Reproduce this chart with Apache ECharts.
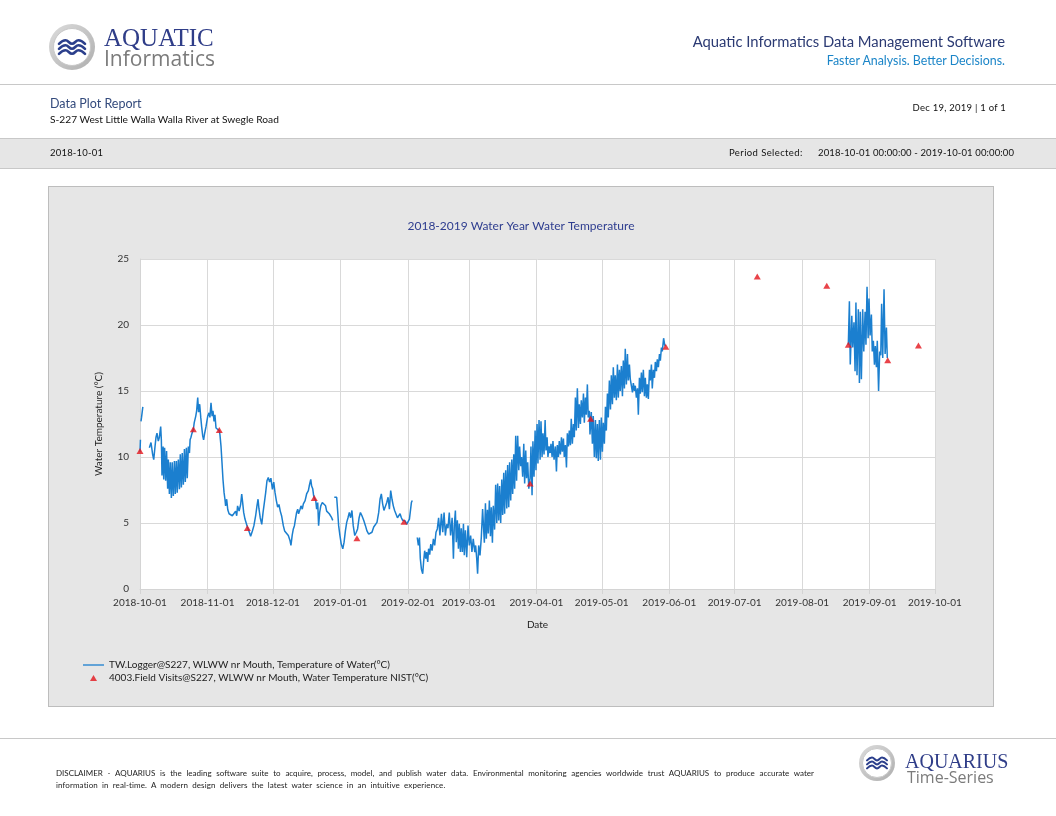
<!DOCTYPE html>
<html>
<head>
<meta charset="utf-8">
<title>Data Plot Report</title>
<script src="https://cdn.jsdelivr.net/npm/echarts@6/dist/echarts.min.js"></script>
<style>
  html, body { margin: 0; padding: 0; background: #fff; }
  #page { position: relative; width: 1056px; height: 816px; overflow: hidden; font-family: Lato, "Open Sans", sans-serif; }
  #chart { position: absolute; left: 0; top: 0; width: 1056px; height: 816px; }
  .t { position: absolute; white-space: nowrap; line-height: 1; }
  .box { position: absolute; box-sizing: border-box; }
</style>
</head>
<body>
<div id="page">
  <div class="box" style="left:0;top:84px;width:1056px;height:1px;background:#c8c8c8;"></div>
  <div class="box" style="left:0;top:138px;width:1056px;height:31px;background:#e6e6e6;border-top:1px solid #c8c8c8;border-bottom:1px solid #c8c8c8;"></div>
  <div class="box" style="left:48px;top:186px;width:946px;height:521px;background:#e6e6e6;border:1px solid #bdbdbd;"></div>
  <div class="box" style="left:0;top:738px;width:1056px;height:1px;background:#c8c8c8;"></div>

  <div id="chart"></div>

  <div class="t" style="left:104px;top:25px;font-size:25px;font-family:'Liberation Serif';color:#2f3d88;">AQUATIC</div>
  <div class="t" style="left:104px;top:48px;font-size:21px;font-family:'Open Sans';color:#7b7b7b;">Informatics</div>
  <div class="t" style="right:51px;top:34px;font-size:14.8px;color:#2b3a73;">Aquatic Informatics Data Management Software</div>
  <div class="t" style="right:51px;top:55px;font-size:12.4px;color:#1b85c8;">Faster Analysis. Better Decisions.</div>

  <div class="t" style="left:50px;top:98px;font-size:12.5px;color:#334a7c;">Data Plot Report</div>
  <div class="t" style="left:50px;top:114px;font-size:10.2px;color:#111;">S-227 West Little Walla Walla River at Swegle Road</div>
  <div class="t" style="right:50px;top:103px;font-size:9.5px;letter-spacing:0.24px;color:#111;">Dec 19, 2019 | 1 of 1</div>

  <div class="t" style="left:50px;top:148px;font-size:9.5px;letter-spacing:0.2px;color:#111;">2018-10-01</div>
  <div class="t" style="left:729px;top:148px;font-size:9.5px;letter-spacing:0.4px;color:#111;">Period Selected:</div>
  <div class="t" style="left:818px;top:148px;font-size:9.5px;letter-spacing:0.12px;color:#111;">2018-10-01 00:00:00 - 2019-10-01 00:00:00</div>

  <div class="t" style="left:56px;top:769px;width:758px;font-size:8px;color:#222;white-space:normal;text-align:justify;text-align-last:justify;">DISCLAIMER - AQUARIUS is the leading software suite to acquire, process, model, and publish water data. Environmental monitoring agencies worldwide trust AQUARIUS to produce accurate water</div>
  <div class="t" style="left:56px;top:781px;font-size:8px;color:#222;letter-spacing:0.1px;word-spacing:2px;">information in real-time. A modern design delivers the latest water science in an intuitive experience.</div>

  <div class="t" style="left:905px;top:751px;font-size:20px;font-family:'Liberation Serif';color:#2f3d88;">AQUARIUS</div>
  <div class="t" style="left:907px;top:769px;font-size:16px;font-family:'Open Sans';color:#7b7b7b;">Time-Series</div>
</div>

<script>
// days since 2018-10-01, water temperature (°C); null = gap in the record
var loggerOct = [
  [0.0,10.4],[0.2,11.3],[0.3,null],[0.45,12.7],[0.7,13.0],[1.0,13.4],[1.3,13.8],[2.5,null],
  [4.3,10.7],[5.05,11.1],[5.8,10.2],[6.3,9.8],[6.9,10.8],[7.35,11.5],[7.8,11.8],[8.4,11.2],[8.9,11.5],
  [9.5,12.3],[9.8,11.3],[10.1,8.6],[10.6,10.8],[10.9,8.3],[11.3,10.7],[11.8,8.2],[12.2,10.45],[12.7,7.6],
  [13.0,9.8],[13.5,7.2],[13.9,9.6],[14.4,6.9],[14.8,9.6],[15.3,7.05],[15.8,9.7],[16.2,7.2],[16.7,9.7],
  [17.1,7.3],[17.6,9.8],[18.1,7.55],[18.5,10.2],[19.0,7.7],[19.4,10.3],[19.9,7.9],[20.4,10.6],[20.8,8.1],
  [21.3,10.7],[21.7,8.4],[22.2,10.8],[22.7,10.3],[23.0,11.3],[23.4,11.5],[23.7,11.7],[24.5,12.1],[24.9,12.6],
  [25.6,13.1],[26.0,13.5],[26.5,14.5],[26.9,13.4],[27.4,14.0],[27.9,13.0],[28.3,12.3],[28.8,11.6],[29.2,11.3],
  [29.7,11.8],[30.3,12.3]
];
var loggerNov = [
  [31.1,13.1],[31.7,13.35],[32.1,13.0],[32.6,14.1],[33.1,13.1],[33.5,13.5],[34.0,12.7],[34.4,13.2],[34.9,12.2],
  [35.4,12.3],[36.4,12.0],[36.7,11.7],[37.2,10.8],[37.6,9.7],[38.1,8.3],[38.6,7.3],[39.0,6.8],[39.3,6.3],
  [39.8,6.8],[40.3,6.0],[40.9,5.7],[41.6,5.55],[42.4,5.55],[43.3,5.4],[43.9,5.9],[44.4,5.55],[44.8,6.3],
  [45.5,5.9],[46.2,6.4],[46.7,7.2],[47.1,6.6],[47.6,5.8],[48.2,5.3],[49.3,4.7],[50.2,4.3],[50.8,4.0],
  [51.6,4.4],[52.3,4.8],[53.1,5.55],[53.7,6.3],[54.2,6.8],[54.6,6.1],[55.2,5.4],[55.9,4.9],[56.5,5.8],
  [57.1,6.55],[57.7,7.3],[58.3,8.2],[58.9,8.45],[59.5,8.1],[60.1,8.4],[60.8,7.55]
];
var loggerDec = [
  [61.4,8.1],[62.0,7.3],[62.6,6.7],[63.2,6.2],[63.8,6.4],[64.4,5.9],[65.0,5.55],[65.8,4.8],[66.4,4.4],
  [67.3,4.4],[68.1,4.05],[68.9,3.65],[69.3,3.3],[69.9,4.1],[70.4,4.55],[70.9,4.8],[71.5,5.4],[71.9,5.8],
  [72.4,6.05],[72.8,5.7],[73.5,6.05],[73.9,6.3],[74.5,6.05],[75.0,6.45],[75.8,6.7],[76.5,7.2],[77.3,7.45],
  [77.7,7.8],[78.4,8.3],[78.8,7.8],[79.3,7.6],[79.7,7.1],[80.0,6.9],[80.7,6.7],[81.1,6.05],[81.6,6.55],
  [82.0,4.8],[82.5,5.8],[83.0,6.3],[83.7,6.55],[84.5,6.45],[85.2,6.3],[85.7,5.9],[86.5,6.05],[86.9,5.7],
  [87.5,5.8],[88.0,5.4],[88.5,5.2],[88.9,null],[89.2,6.95],[90.3,6.95],[90.8,5.8],[91.2,4.8],[91.8,4.05]
];
var loggerJan = [
  [92.4,3.4],[93.1,3.05],[93.7,3.55],[94.3,4.4],[94.9,5.05],[95.5,5.4],[96.1,5.8],[96.7,5.4],[97.3,5.95],
  [97.9,4.8],[98.6,4.05],[99.3,4.3],[99.9,4.55],[100.6,5.4],[101.2,5.8],[101.9,5.55],[102.7,5.2],[103.5,4.8],
  [104.2,4.4],[105.0,4.15],[105.8,4.05],[106.5,4.3],[107.3,4.7],[108.0,4.8],[108.8,5.05],[109.6,5.8],
  [110.2,6.8],[110.8,7.2],[111.4,6.45],[112.0,5.95],[112.6,5.8],[113.3,6.55],[113.9,6.95],[114.5,6.05],
  [115.1,7.45],[115.7,6.8],[116.3,6.3],[116.9,5.95],[117.5,5.8],[118.2,5.4],[118.8,5.55],[119.4,5.7],
  [120.0,5.4],[120.6,5.2],[121.2,5.1],[121.8,5.15],[122.4,4.9]
];
var loggerFeb = [
  [123.0,4.8],[123.7,5.3],[124.1,5.2],[124.6,6.55],[125.0,6.7],[125.5,6.55],[126.4,null],[127.3,3.9],
  [127.8,3.3],[128.3,3.9],[128.7,2.3],[129.2,1.5],[129.8,1.15],[130.2,2.05],[130.7,2.9],[131.2,2.3],
  [131.6,2.8],[132.1,2.05],[132.5,3.05],[133.0,2.6],[133.5,3.4],[134.1,2.9],[134.7,3.8],[135.3,3.3],
  [135.9,4.3],[136.5,4.55],[137.1,5.4],[137.7,4.05],[138.4,5.7],[139.0,4.3],[139.6,5.8],[140.2,4.05],
  [140.8,4.9],[141.4,4.6],[142.0,5.8],[142.6,4.05],[143.3,5.4],[143.9,2.3],[144.3,4.8],[144.8,5.95],
  [145.2,3.55],[145.7,5.2],[146.2,3.05],[146.6,4.95],[147.1,2.8],[147.5,4.6],[148.0,2.8],[148.5,4.95],
  [148.9,2.55],[149.4,4.45],[150.0,2.4],[150.6,4.8]
];
var loggerMar = [
  [151.2,3.3],[151.8,4.05],[152.4,2.8],[153.0,3.8],[153.7,2.8],[154.1,3.3],[154.6,2.3],[155.0,1.15],
  [155.5,3.3],[156.1,2.55],[156.7,3.9],[157.3,6.05],[158.1,3.5],[158.6,6.5],[159.0,3.8],[159.5,6.0],
  [159.9,4.2],[160.4,6.7],[160.9,4.0],[161.3,6.2],[161.8,3.5],[162.2,6.3],[162.8,4.5],[163.3,7.9],
  [163.8,5.0],[164.2,8.0],[164.7,5.2],[165.1,7.8],[165.6,5.0],[166.1,8.3],[166.5,5.6],[167.0,8.8],
  [167.4,5.7],[167.9,9.0],[168.4,6.1],[168.8,9.4],[169.3,6.2],[169.7,9.6],[170.2,6.7],[170.7,9.8],
  [171.1,7.2],[171.6,10.2],[172.0,7.6],[172.5,11.6],[172.9,8.2],[173.4,11.6],[173.9,9.0],[174.3,10.8],
  [174.8,9.3],[175.2,10.0],[175.7,8.5],[176.2,11.0],[176.6,8.0],[177.1,10.5],[177.5,8.4],[178.0,9.6],
  [178.5,7.6],[179.1,8.4],[179.5,10.8],[180.0,7.1],[180.4,11.2],[180.9,8.5],[181.4,12.0],[181.8,9.0]
];
var loggerApr = [
  [182.3,12.5],[182.7,9.5],[183.2,12.8],[183.7,9.8],[184.1,12.7],[184.6,10.0],[185.0,11.8],[185.5,10.2],
  [186.0,12.8],[186.4,10.5],[186.9,11.5],[187.3,10.0],[187.8,10.8],[188.3,10.3],[188.7,11.0],[189.2,10.0],
  [189.6,11.2],[190.1,9.8],[190.7,10.8],[191.2,8.9],[191.6,10.9],[192.1,10.0],[192.5,11.2],[193.0,10.2],
  [193.5,11.5],[193.9,10.4],[194.4,11.4],[194.8,10.0],[195.3,10.9],[195.8,9.2],[196.2,11.8],[196.7,10.8],
  [197.1,12.0],[197.6,10.9],[198.0,12.9],[198.5,11.0],[199.0,12.5],[199.4,11.5],[199.9,14.5],[200.3,12.0],
  [200.8,15.2],[201.3,12.2],[201.7,14.0],[202.2,12.5],[202.6,14.3],[203.1,13.0],[203.6,14.8],[204.0,12.6],
  [204.5,14.5],[204.9,13.2],[205.4,15.5],[205.8,13.0],[206.3,13.5],[206.6,11.7],[207.2,13.4],[207.7,11.0],
  [208.1,13.1],[208.6,10.0],[209.1,12.8],[209.5,9.9],[210.0,12.5],[210.4,9.7],[210.9,12.8],[211.4,9.8],
  [211.8,13.0]
];
var loggerMay = [
  [212.3,10.4],[212.7,12.6],[213.2,11.0],[213.7,13.8],[214.1,12.0],[214.6,14.8],[215.0,13.0],[215.5,15.8],
  [216.0,13.6],[216.4,16.2],[216.9,14.0],[217.3,16.8],[217.8,14.5],[218.2,16.2],[218.7,14.3],[219.2,17.0],
  [219.6,14.5],[220.1,16.6],[220.5,15.0],[221.0,16.9],[221.5,14.6],[221.9,17.3],[222.4,15.2],[222.8,18.2],
  [223.3,15.5],[223.8,17.8],[224.2,15.8],[224.7,17.0],[225.1,15.9],[225.6,16.0],[226.1,14.9],[226.5,15.6],
  [227.0,15.0],[227.4,15.4],[227.9,14.5],[228.4,15.2],[228.8,13.2],[229.3,16.0],[229.7,14.8],[230.2,16.4],
  [230.6,14.9],[231.1,16.6],[231.6,14.6],[232.0,16.0],[232.5,14.5],[232.9,15.5],[233.4,14.4],[233.9,16.6],
  [234.3,15.8],[234.8,17.0],[235.2,15.2],[235.7,16.6],[236.2,16.0],[236.6,17.2],[237.1,16.5],[237.5,17.4],
  [238.0,16.8],[238.5,17.8],[238.9,17.3],[239.4,18.3],[239.8,18.0],[240.4,19.0],[240.9,18.5],[241.2,18.4]
];
var loggerAugSep = [
  [280.0,null],
  [325.2,18.5],[325.7,21.8],[326.1,17.0],[326.8,20.7],[327.2,18.3],[327.8,20.2],[328.3,16.5],[328.7,21.7],
  [329.2,16.2],[329.8,21.2],[330.3,15.6],[330.7,21.0],[331.2,15.9],[331.8,21.2],[332.3,18.0],[332.9,21.0],
  [333.3,18.5],[333.8,22.9],[334.3,19.0],[334.7,22.0],[335.2,19.2],[335.8,20.8],[336.2,18.0],[336.7,18.8],
  [337.2,17.0],[337.6,18.4],[338.1,16.8],[338.5,18.8],[339.1,15.0],[339.6,18.0],[340.1,17.7],[340.5,21.6],
  [341.0,17.5],[341.6,22.7],[342.1,17.8],[342.7,19.8],[343.1,17.5]
];
var visitDays  = [0.0, 24.5, 36.4, 49.3, 80.0, 99.6, 121.2, 179.1, 206.9, 241.4, 283.4, 315.3, 325.2, 343.3, 357.4];
var visitTemps = [10.45, 12.1, 12.05, 4.63, 6.9, 3.85, 5.1, 8.0, 12.9, 18.35, 23.68, 22.97, 18.5, 17.33, 18.44];

var loggerName = 'TW.Logger@S227, WLWW nr Mouth, Temperature of Water(°C)';
var visitName = '4003.Field Visits@S227, WLWW nr Mouth, Water Temperature NIST(°C)';

var DAY = 86400000;
var T0 = new Date(2018, 9, 1).getTime();

var loggerAll = [].concat(loggerOct, loggerNov, loggerDec, loggerJan, loggerFeb,
  loggerMar, loggerApr, loggerMay, loggerAugSep);
var loggerData = loggerAll.map(function (p) {
  return [T0 + p[0] * DAY, p[1] === null ? '-' : p[1]];
});
var visitData = visitDays.map(function (d, i) {
  return [T0 + d * DAY, visitTemps[i]];
});

// logo: grey ring with three waves
function logo(cx, cy, r, rIn, half, gap, amp, w) {
  var els = [
    { type: 'circle', shape: { cx: cx, cy: cy, r: r },
      style: { fill: new echarts.graphic.LinearGradient(0, 0, 1, 1, [
        { offset: 0, color: '#dcdcdc' }, { offset: 1, color: '#aeaeae' }]) } },
    { type: 'circle', shape: { cx: cx, cy: cy, r: rIn },
      style: { fill: '#fff', stroke: '#c9c9c9', lineWidth: 1 } }
  ];
  [-gap, 0, gap].forEach(function (dy) {
    var y = cy + dy;
    els.push({
      type: 'polyline',
      shape: { points: [[cx - half, y + amp], [cx - half / 2, y - amp], [cx, y + amp],
                        [cx + half / 2, y - amp], [cx + half, y + amp]], smooth: 0.45 },
      style: { stroke: '#2b3f8c', lineWidth: w, fill: null, lineCap: 'round' }
    });
  });
  return els;
}

var chart = echarts.init(document.getElementById('chart'), null, { renderer: 'canvas' });

chart.setOption({
  animation: false,
  textStyle: { fontFamily: 'Lato' },
  graphic: [].concat(
    logo(72, 47, 23, 18.5, 13, 5, 1.8, 2.6),
    logo(877, 763, 18, 14.5, 10, 4, 1.4, 2),
    [{
      type: 'text', x: 521, y: 226,
      style: { text: '2018-2019 Water Year Water Temperature', align: 'center', verticalAlign: 'middle',
               font: '12px Lato', fill: '#2e3d8f' }
    }]
  ),
  legend: {
    orient: 'vertical',
    left: 78, top: 655,
    itemWidth: 21, itemHeight: 6, itemGap: 3,
    symbolKeepAspect: true,
    textStyle: { fontSize: 10, color: '#222' },
    data: [
      { name: loggerName, icon: 'path://M0,0 L21,0 L21,1.3 L0,1.3 Z', itemStyle: { color: '#1b7fcf' } },
      { name: visitName, icon: 'path://M3.5,0 L7,6 L0,6 Z', itemStyle: { color: '#e3141c' } }
    ]
  },
  grid: {
    left: 140, top: 259, width: 795, height: 330,
    show: true, backgroundColor: '#fff', borderWidth: 0,
    outerBoundsMode: 'none'
  },
  xAxis: {
    type: 'time',
    min: T0,
    max: new Date(2019, 9, 1).getTime(),
    minInterval: 28 * DAY,
    maxInterval: 31 * DAY,
    name: 'Date',
    nameLocation: 'middle',
    nameGap: 31,
    nameTextStyle: { fontSize: 10, color: '#222' },
    axisLine: { lineStyle: { color: '#d4d4d4' } },
    axisTick: { show: true, length: 5, lineStyle: { color: '#d4d4d4' } },
    splitLine: { show: true, lineStyle: { color: '#d9d9d9' } },
    axisLabel: {
      formatter: '{yyyy}-{MM}-{dd}', color: '#333', fontSize: 10, margin: 9,
      showMinLabel: true, showMaxLabel: true, hideOverlap: false
    }
  },
  yAxis: {
    type: 'value',
    min: 0, max: 25, interval: 5,
    name: 'Water Temperature (°C)',
    nameLocation: 'middle',
    nameGap: 36,
    nameTextStyle: { fontSize: 10, color: '#222' },
    axisLine: { show: true, lineStyle: { color: '#d4d4d4' } },
    axisTick: { show: false },
    splitLine: { show: true, lineStyle: { color: '#d9d9d9' } },
    axisLabel: { color: '#333', fontSize: 10, margin: 11 }
  },
  series: [
    {
      name: loggerName,
      type: 'line',
      data: loggerData,
      symbol: 'none',
      connectNulls: false,
      lineStyle: { color: '#1b7fcf', width: 1.5 },
      itemStyle: { color: '#1b7fcf' },
      z: 2
    },
    {
      name: visitName,
      type: 'scatter',
      data: visitData,
      symbol: 'triangle',
      symbolSize: [7, 6],
      itemStyle: { color: '#e3141c' },
      z: 3
    }
  ]
});
</script>
</body>
</html>
